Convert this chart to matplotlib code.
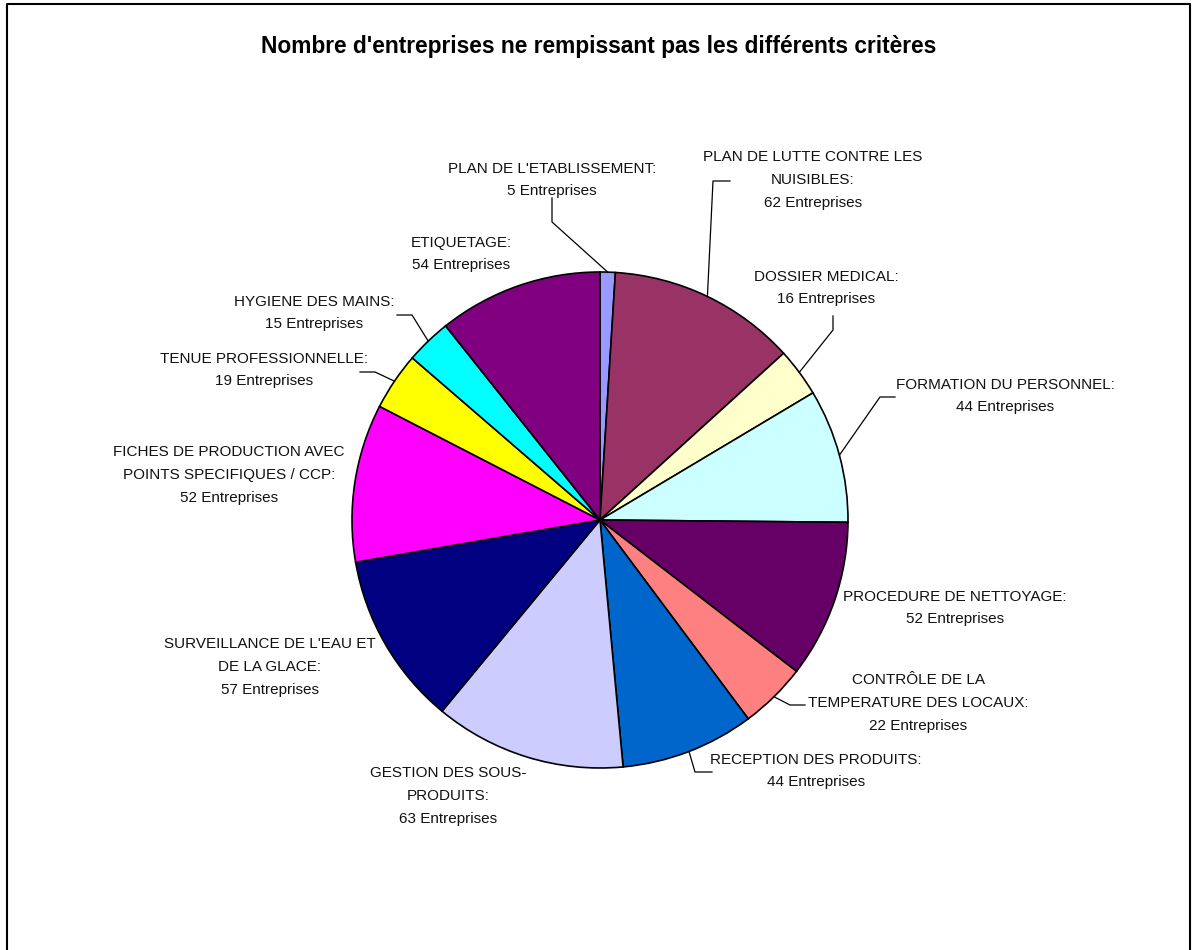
import numpy as np
import matplotlib.pyplot as plt

# Critères et nombre d'entreprises non conformes
categories = [
    "PLAN DE L'ETABLISSEMENT",
    "PLAN DE LUTTE CONTRE LES\nNUISIBLES",
    "DOSSIER MEDICAL",
    "FORMATION DU PERSONNEL",
    "PROCEDURE DE NETTOYAGE",
    "CONTRÔLE DE LA\nTEMPERATURE DES LOCAUX",
    "RECEPTION DES PRODUITS",
    "GESTION DES SOUS-\nPRODUITS",
    "SURVEILLANCE DE L'EAU ET\nDE LA GLACE",
    "FICHES DE PRODUCTION AVEC\nPOINTS SPECIFIQUES / CCP",
    "TENUE PROFESSIONNELLE",
    "HYGIENE DES MAINS",
    "ETIQUETAGE",
]
values = [5, 62, 16, 44, 52, 22, 44, 63, 57, 52, 19, 15, 54]
colors = ["#9999FF", "#993366", "#FFFFCC", "#CCFFFF", "#660066", "#FF8080",
          "#0066CC", "#CCCCFF", "#000080", "#FF00FF", "#FFFF00", "#00FFFF",
          "#800080"]

# Position des étiquettes (pixels, origine en haut à gauche)
label_pos = [(552, 180), (813, 180), (826, 288), (1005, 396), (955, 608),
             (918, 703), (816, 771), (448, 796), (270, 667), (229, 475),
             (264, 370), (314, 313), (461, 254)]
# Lignes de rappel : points intermédiaires après le bord de la part
leaders = [[(552, 222), (552, 198)], [(713, 181), (730, 181)],
           [(833, 330), (833, 316)], [(880, 397), (895, 397)], None,
           [(790, 705), (805, 705)], [(695, 772), (712, 772)], None, None,
           None, [(375, 372), (360, 372)], [(412, 315), (397, 315)], None]

W, H = 1197, 950
CX, CY, R = 600, 520, 248

plt.rcParams['font.family'] = ['Liberation Sans', 'DejaVu Sans']

fig = plt.figure(figsize=(W / 100, H / 100), dpi=100)
ax = fig.add_axes([0, 0, 1, 1])

wedges, _ = ax.pie(values, colors=colors, startangle=90, counterclock=False,
                   center=(CX, H - CY), radius=R,
                   wedgeprops=dict(edgecolor='black', linewidth=1.2))
ax.set_xlim(0, W)
ax.set_ylim(0, H)
ax.set_aspect('equal')
ax.axis('off')

for w, cat, v, (lx, ly), path in zip(wedges, categories, values, label_pos, leaders):
    ax.text(lx, H - ly, f"{cat}:\n{v} Entreprises", ha='center', va='center',
            multialignment='center', fontsize=11, linespacing=1.78,
            color='#111111')
    if path:
        mid = np.deg2rad((w.theta1 + w.theta2) / 2)
        xs = [CX + R * np.cos(mid)] + [p[0] for p in path]
        ys = [H - CY + R * np.sin(mid)] + [H - p[1] for p in path]
        ax.plot(xs, ys, color='black', linewidth=0.9)

ax.text(W / 2, H - 47, "Nombre d'entreprises ne rempissant pas les différents critères",
        ha='center', va='center', fontsize=16.4, fontweight='bold')

# Cadre du graphique
ax.plot([7, 7, 1190, 1190], [-5, H - 4, H - 4, -5], color='black',
        linewidth=1.5, clip_on=False)

fig.savefig("out.png", dpi=100, facecolor='white')
